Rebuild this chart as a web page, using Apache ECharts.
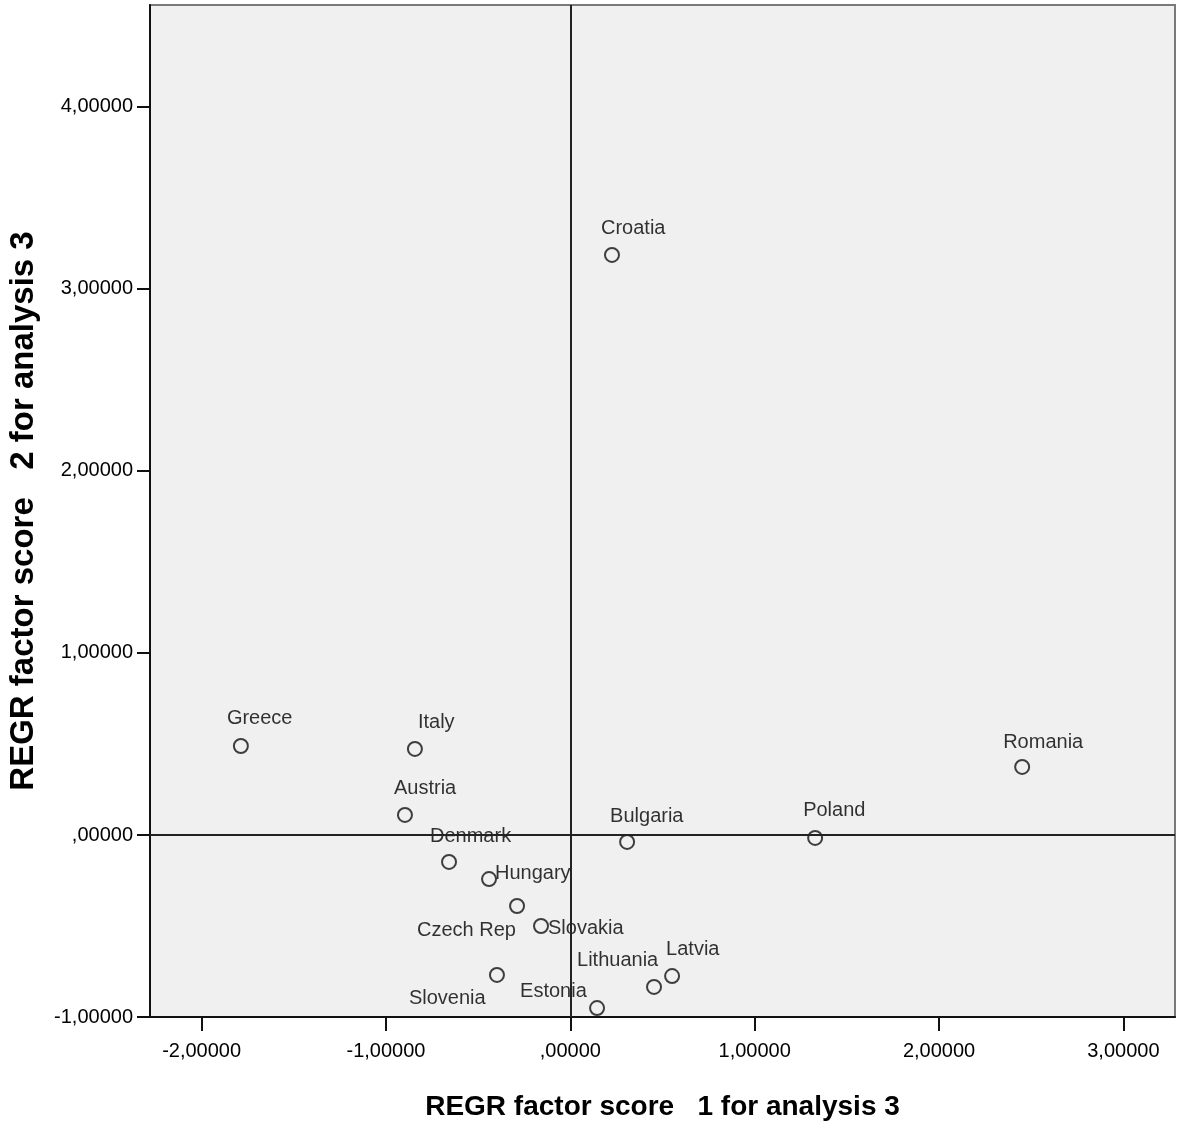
<!DOCTYPE html>
<html>
<head>
<meta charset="utf-8">
<script src="https://cdn.jsdelivr.net/npm/echarts@6/dist/echarts.min.js"></script>
<style>
html,body{margin:0;padding:0;background:#fff;}
#chart{width:1177px;height:1122px;}
</style>
</head>
<body>
<div id="chart"></div>
<script>
// Data
const countries = ['Greece','Italy','Austria','Denmark','Hungary','Czech Rep','Slovakia','Slovenia','Estonia','Lithuania','Latvia','Bulgaria','Poland','Romania','Croatia'];
const factor1 = [-1.787,-0.843,-0.897,-0.658,-0.441,-0.289,-0.159,-0.398,0.145,0.454,0.552,0.308,1.328,2.451,0.226];
const factor2 = [0.489,0.473,0.110,-0.148,-0.242,-0.390,-0.500,-0.769,-0.951,-0.835,-0.775,-0.038,-0.016,0.374,3.187];
const xTicks = [-2,-1,0,1,2,3];
const yTicks = [-1,0,1,2,3,4];
const xTitle = 'REGR factor score   1 for analysis 3';
const yTitle = 'REGR factor score   2 for analysis 3';

// Label placement (style only), relative to symbol box top-left
const labelDx = [-6,11,-3,-11,14,-92,15,-80,-69,-69,2,-9,-4,-11,-3];
const labelDy = [-19,-18,-18,-17,2,33,10,32,-9,-18,-19,-17,-19,-16,-18];

function fmt(v){
  let s = Math.abs(v).toFixed(5).replace('.', ',');
  if (Math.abs(v) < 1) s = s.replace(/^0/, '');
  return (v < 0 ? '-' : '') + s;
}

const FONT = 'Liberation Sans, Arial, Helvetica, sans-serif';
const chart = echarts.init(document.getElementById('chart'));
const data = countries.map((c,i)=>({
  name: c,
  value: [factor1[i], factor2[i]],
  label: {position: [labelDx[i], labelDy[i]]}
}));

chart.setOption({
  animation: false,
  backgroundColor: '#ffffff',
  grid: {left:150, right:2, top:5, bottom:105, containLabel:false, outerBoundsMode:'none', show:true, backgroundColor:'#f0f0f0', borderColor:'#7a7a7a', borderWidth:2},
  xAxis: {
    type:'value', min:-2.28, max:3.28,
    name: xTitle, nameLocation:'middle', nameGap:76,
    nameTextStyle:{fontFamily:FONT, fontWeight:'bold', fontSize:28, color:'#000'},
    axisLine:{show:true, onZero:false, lineStyle:{color:'#111', width:2}},
    axisTick:{show:true, length:14, customValues:xTicks, lineStyle:{color:'#111', width:2}},
    axisLabel:{customValues:xTicks, formatter:fmt, fontFamily:FONT, fontSize:20, color:'#000', margin:24},
    splitLine:{show:false}
  },
  yAxis: {
    type:'value', min:-1.0, max:4.56,
    name: yTitle, nameLocation:'middle', nameGap:110,
    nameTextStyle:{fontFamily:FONT, fontWeight:'bold', fontSize:33, color:'#000'},
    axisLine:{show:true, onZero:false, lineStyle:{color:'#111', width:2}},
    axisTick:{show:true, length:13, customValues:yTicks, lineStyle:{color:'#111', width:2}},
    axisLabel:{customValues:yTicks, formatter:fmt, fontFamily:FONT, fontSize:20, color:'#000', margin:17},
    splitLine:{show:false}
  },
  series: [{
    type:'scatter',
    symbol:'circle',
    symbolSize:14,
    itemStyle:{color:'rgba(0,0,0,0)', borderColor:'#111', borderWidth:2},
    label:{show:true, formatter:'{b}', fontFamily:FONT, fontSize:20, color:'#000', align:'left', verticalAlign:'middle'},
    data: data,
    markLine:{
      silent:true, symbol:['none','none'], animation:false,
      label:{show:false},
      lineStyle:{color:'#222', width:2, type:'solid'},
      emphasis:{disabled:true},
      data:[{xAxis:0},{yAxis:0}]
    },
    z:3
  }]
});
</script>
</body>
</html>
